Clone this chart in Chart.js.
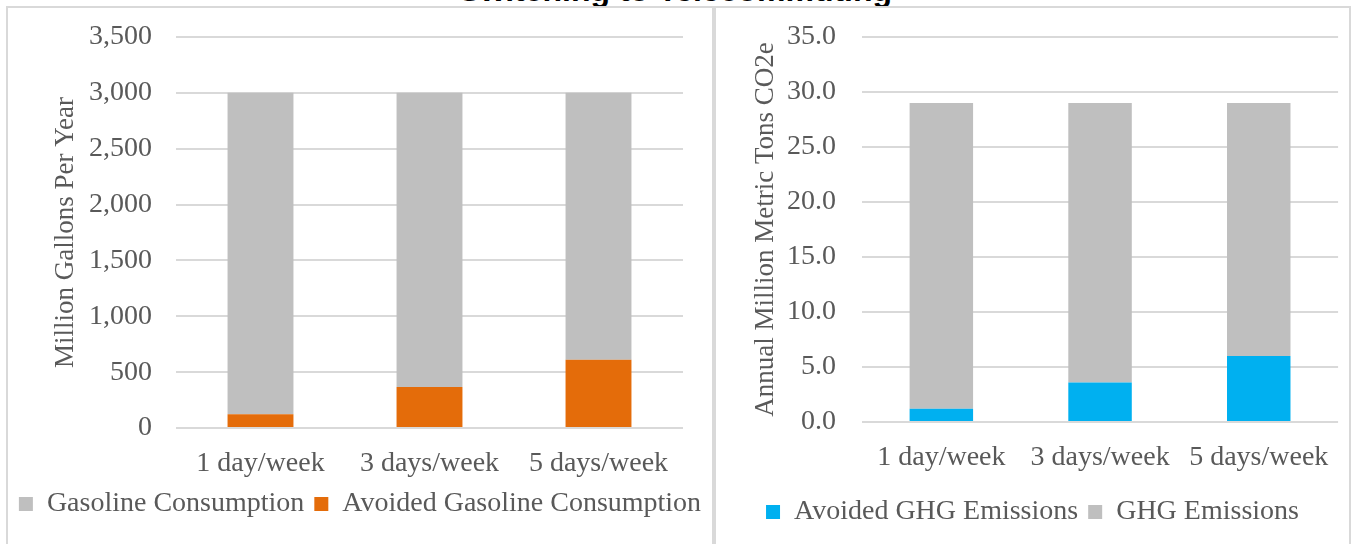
<!DOCTYPE html>
<html>
<head>
<meta charset="utf-8">
<script src="https://cdn.jsdelivr.net/npm/chart.js@4.4.1/dist/chart.umd.min.js"></script>
<style>
  body { margin: 0; background: #fff; width: 1351px; height: 544px; overflow: hidden; position: relative; }
  #title { position: absolute; left: 0; width: 1351px; top: -26px; text-align: center;
           font: bold 32px "Liberation Sans", Arial, sans-serif; line-height: 32px; color: #000; }
  .panel { position: absolute; top: 6px; height: 600px; border: 2px solid #d9d9d9; box-sizing: border-box; }
  #leftPanel { left: 6px; width: 708px; }
  #rightPanel { left: 714px; width: 637px; }
  canvas { position: absolute; top: 8px; }
  #gasChart { left: 8px; }
  #ghgChart { left: 716px; }
</style>
</head>
<body>
<div id="title">Switching to Telecommuting</div>
<div class="panel" id="leftPanel"></div>
<div class="panel" id="rightPanel"></div>
<canvas id="gasChart" width="704" height="536" style="width:704px;height:536px"></canvas>
<canvas id="ghgChart" width="633" height="536" style="width:633px;height:536px"></canvas>
<script>
// categories shared by both charts
const categories = ['1 day/week', '3 days/week', '5 days/week'];

// left chart: million gallons per year
const avoidedGasoline = [122, 366, 610];
const gasolineConsumption = [2878, 2634, 2390];
const gasTicks = [0, 500, 1000, 1500, 2000, 2500, 3000, 3500];

// right chart: annual million metric tons CO2e
const avoidedGhg = [1.2, 3.6, 6.0];
const ghgEmissions = [27.8, 25.4, 23.0];
const ghgTicks = [0, 5, 10, 15, 20, 25, 30, 35];

const serif = '"Liberation Serif", "Times New Roman", serif';
const textColor = '#595959';
const gridColor = '#d9d9d9';

Chart.defaults.font.family = serif;
Chart.defaults.color = textColor;
Chart.defaults.animation = false;

function makeOptions(cfg) {
    return {
        responsive: false,
        animation: false,
        layout: { padding: { top: 29, right: 0, bottom: cfg.padBottom, left: 0 } },
        plugins: {
            tooltip: { enabled: false },
            legend: {
                position: 'bottom',
                reverse: cfg.reverse,
                labels: { font: { size: 28, family: serif }, color: textColor, boxWidth: 14, boxHeight: 14, padding: 10 }
            }
        },
        scales: {
            x: {
                stacked: true,
                grid: { display: false, drawTicks: false },
                border: { display: false },
                ticks: { font: { size: 28 }, color: textColor, padding: 19, maxRotation: 0, autoSkip: false },
                afterFit: function (scale) { scale.height = cfg.xHeight; }
            },
            y: {
                stacked: true,
                min: 0,
                max: cfg.ticks[cfg.ticks.length - 1],
                afterBuildTicks: function (scale) {
                    scale.ticks = cfg.ticks.map(v => ({ value: v }));
                },
                grid: { color: gridColor, lineWidth: 2, drawTicks: false },
                border: { display: false },
                ticks: { font: { size: 28 }, color: textColor, padding: cfg.tickPad, callback: cfg.format },
                title: { display: true, text: cfg.title, font: { size: 27 }, color: textColor, padding: { top: cfg.titlePad, bottom: 0 } },
                afterFit: function (scale) {
                    scale.width = cfg.yWidth;
                    scale.paddingTop = 0;
                    scale.paddingBottom = 0;
                }
            },
            // empty axis on the right, only keeps space beside the plot
            spacer: {
                type: 'linear',
                position: 'right',
                grid: { display: false, drawTicks: false },
                border: { display: false },
                ticks: { display: false },
                afterFit: function (scale) {
                    scale.width = cfg.padRight;
                    scale.paddingTop = 0;
                    scale.paddingBottom = 0;
                }
            }
        }
    };
}

// Gasoline chart (orange stacked at bottom, gray on top)
new Chart(document.getElementById('gasChart').getContext('2d'), {
    type: 'bar',
    data: {
        labels: categories,
        datasets: [{
            label: 'Avoided Gasoline Consumption',
            data: avoidedGasoline,
            backgroundColor: '#e46c0a',
            barPercentage: 0.39,
            categoryPercentage: 1
        }, {
            label: 'Gasoline Consumption',
            data: gasolineConsumption,
            backgroundColor: '#bfbfbf',
            barPercentage: 0.39,
            categoryPercentage: 1
        }]
    },
    options: makeOptions({
        ticks: gasTicks,
        format: v => Number(v).toLocaleString('en-US'),
        title: 'Million Gallons Per Year',
        reverse: true,
        padRight: 29, padBottom: 16, xHeight: 52,
        yWidth: 168, tickPad: 24, titlePad: 42
    })
});

// GHG chart
new Chart(document.getElementById('ghgChart').getContext('2d'), {
    type: 'bar',
    data: {
        labels: categories,
        datasets: [{
            label: 'Avoided GHG Emissions',
            data: avoidedGhg,
            backgroundColor: '#00b0f0',
            barPercentage: 0.4,
            categoryPercentage: 1
        }, {
            label: 'GHG Emissions',
            data: ghgEmissions,
            backgroundColor: '#bfbfbf',
            barPercentage: 0.4,
            categoryPercentage: 1
        }]
    },
    options: makeOptions({
        ticks: ghgTicks,
        format: v => Number(v).toFixed(1),
        title: 'Annual Million Metric Tons CO2e',
        reverse: false,
        padRight: 10, padBottom: 8, xHeight: 66,
        yWidth: 146, tickPad: 26, titlePad: 34
    })
});
</script>
</body>
</html>
